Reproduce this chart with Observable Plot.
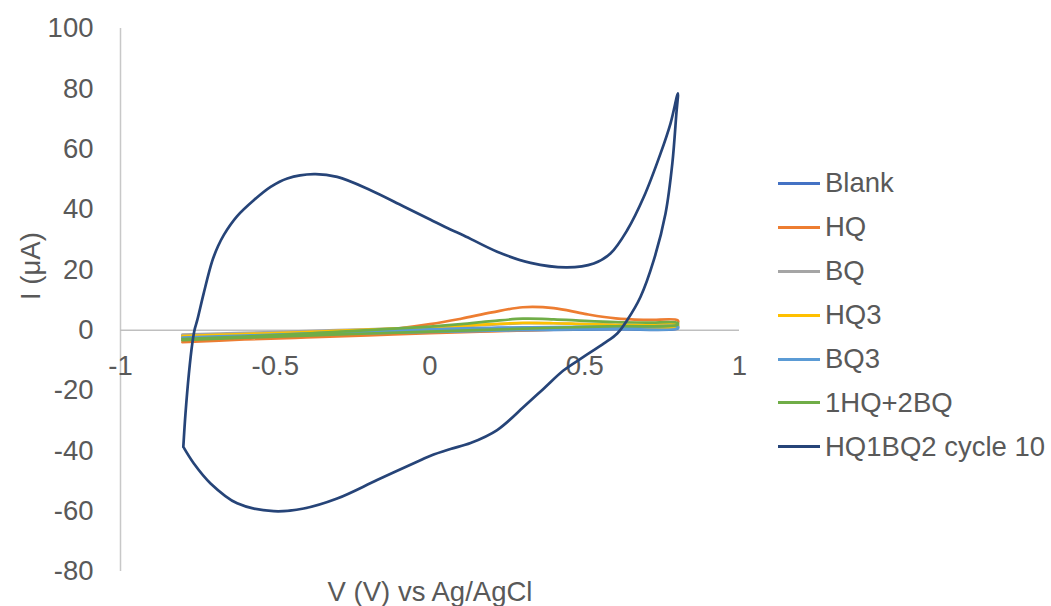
<!DOCTYPE html>
<html><head><meta charset="utf-8">
<script src="https://cdn.jsdelivr.net/npm/d3@7"></script>
<script src="https://cdn.jsdelivr.net/npm/@observablehq/plot@0.6"></script>
<style>
body{margin:0;background:#fff;}
#chart{position:relative;width:1051px;height:606px;font-family:"Liberation Sans",Arial,sans-serif;color:#595959;}
#legend{position:absolute;left:778px;top:161.5px;}
#legend .row{display:flex;align-items:center;height:43.9px;font-size:27.5px;white-space:nowrap;}
#legend .sw{display:inline-block;width:42px;height:3px;margin-right:5px;}
</style></head>
<body><div id="chart"><div id="legend"></div></div>
<script>
// Series names and colours
const seriesNames = ["Blank","HQ","BQ","HQ3","BQ3","1HQ+2BQ","HQ1BQ2 cycle 10"];
const seriesColors = ["#4472C4","#ED7D31","#A5A5A5","#FFC000","#5B9BD5","#70AD47","#264478"];

// Potential sweep for the small CV loops (forward -0.8 -> 0.8, then reverse)
const sweepV = [-0.8,-0.6,-0.4,-0.2,0,0.1,0.2,0.3,0.4,0.5,0.6,0.7,0.8, 0.8,0.6,0.4,0.2,0,-0.2,-0.4,-0.6,-0.8];
const blankI = [-1.8,-1.2,-0.6,-0.1,0.3,0.5,0.7,0.8,0.9,0.9,1.0,1.0,1.0, 0.5,0.3,0.1,-0.2,-0.5,-0.9,-1.3,-1.7,-2.1];
const hqI    = [-3.5,-2.9,-2.0,-0.6,2.0,3.8,5.9,7.6,7.3,5.4,3.9,3.4,3.3, 2.4,1.0,0.2,-0.4,-1.0,-1.7,-2.4,-3.1,-4.0];
const bqI    = [-1.5,-0.9,-0.3,0.3,0.9,1.3,1.8,2.3,2.3,2.0,1.8,1.6,1.6, 1.0,0.7,0.4,0.0,-0.4,-0.8,-1.2,-1.6,-2.0];
const hq3I   = [-2.0,-1.3,-0.6,0.2,1.0,1.5,2.0,2.4,2.3,2.0,1.8,1.8,1.8, 1.2,0.9,0.5,0.0,-0.4,-0.9,-1.4,-1.9,-2.5];
const bq3I   = [-2.5,-1.8,-1.1,-0.4,0.3,0.5,0.7,0.9,1.0,1.1,1.1,1.2,1.2, 0.6,0.4,0.2,-0.2,-0.6,-1.0,-1.5,-2.1,-2.8];
const mixI   = [-3.0,-2.1,-1.1,0.0,1.2,2.0,3.0,3.8,3.6,3.1,2.7,2.5,2.4, 1.8,1.3,0.8,0.2,-0.5,-1.1,-1.8,-2.5,-3.3];

// HQ1BQ2 cycle 10 loop
const cycleV = [-0.797,-0.790,-0.779,-0.768,-0.761,-0.752,-0.731,-0.704,-0.685,-0.666,-0.623,-0.569,-0.515,-0.461,-0.375,-0.300,-0.192,-0.085,0.002,0.066,0.109,0.217,0.325,0.443,0.529,0.583,0.637,0.691,0.745,0.777,0.801,
                0.796,0.783,0.761,0.723,0.680,0.637,0.605,0.562,0.497,0.432,0.368,0.303,0.217,0.131,0.066,0.002,-0.031,-0.171,-0.300,-0.408,-0.505,-0.623,-0.709,-0.763,-0.797];
const cycleI = [-38.7,-27.6,-14.4,-4.4,0,3.3,12.3,22.8,27.8,31.6,37.8,43.1,47.5,50.3,51.7,50.8,46.4,41.0,36.6,33.4,31.4,26.0,22.3,20.8,22.1,25.4,33.1,44.2,58.6,68.5,78.5,
                71.8,55.3,38.7,23.2,11.0,3.3,-1.1,-4.4,-8.8,-13.3,-19.3,-25.4,-33.1,-37.4,-39.4,-41.6,-43.1,-49.7,-55.8,-59.1,-60.0,-57.4,-50.8,-44.2,-38.7];

// Axis ticks and titles
const xTicks = [-1,-0.5,0,0.5,1];
const yTicks = [-80,-60,-40,-20,0,20,40,60,80,100];
const xTitle = "V (V) vs Ag/AgCl";
const yTitle = "I (μA)";

// Build table
const smallSets = [blankI,hqI,bqI,hq3I,bq3I,mixI];
const rows = [];
smallSets.forEach((arr,k)=>arr.forEach((c,i)=>rows.push({series:seriesNames[k],V:sweepV[i],I:c})));
cycleV.forEach((v,i)=>rows.push({series:seriesNames[6],V:v,I:cycleI[i]}));

const plot = Plot.plot({
  width:1051, height:606,
  marginLeft:120, marginRight:312, marginTop:28, marginBottom:35,
  style:{fontFamily:"Liberation Sans, Arial, sans-serif", fontSize:"27.5px", color:"#595959", background:"transparent"},
  x:{domain:[-1,1], axis:null},
  y:{domain:[-80,100], axis:null},
  color:{domain:seriesNames, range:seriesColors},
  marks:[
    Plot.ruleX([-1],{stroke:"#c8c8c8",strokeWidth:1.5}),
    Plot.ruleY([0],{stroke:"#bfbfbf",strokeWidth:1.5}),
    Plot.axisY(yTicks,{tickSize:0,tickPadding:27,fill:"#595959",fontSize:27.5,label:null,tickFormat:d=>String(d)}),
    Plot.text(xTicks,{x:d=>d,y:()=>0,dy:36,text:d=>String(d),fill:"#595959",fontSize:27.5,textAnchor:"middle",lineAnchor:"middle"}),
    Plot.line(rows,{x:"V",y:"I",z:"series",stroke:"series",strokeWidth:2.7,curve:"catmull-rom"}),
    Plot.text([xTitle],{frameAnchor:"bottom",dy:21,fill:"#595959",fontSize:27.5,lineAnchor:"middle"}),
    Plot.text([yTitle],{frameAnchor:"left",dx:-89,rotate:-90,fill:"#595959",fontSize:27.5,lineAnchor:"middle"})
  ]
});
const chart = document.getElementById("chart");
chart.insertBefore(plot, chart.firstChild);

const legend = document.getElementById("legend");
seriesNames.forEach((n,i)=>{
  const r=document.createElement("div"); r.className="row";
  const s=document.createElement("span"); s.className="sw"; s.style.background=seriesColors[i];
  r.appendChild(s); r.appendChild(document.createTextNode(n));
  legend.appendChild(r);
});
</script></body></html>
